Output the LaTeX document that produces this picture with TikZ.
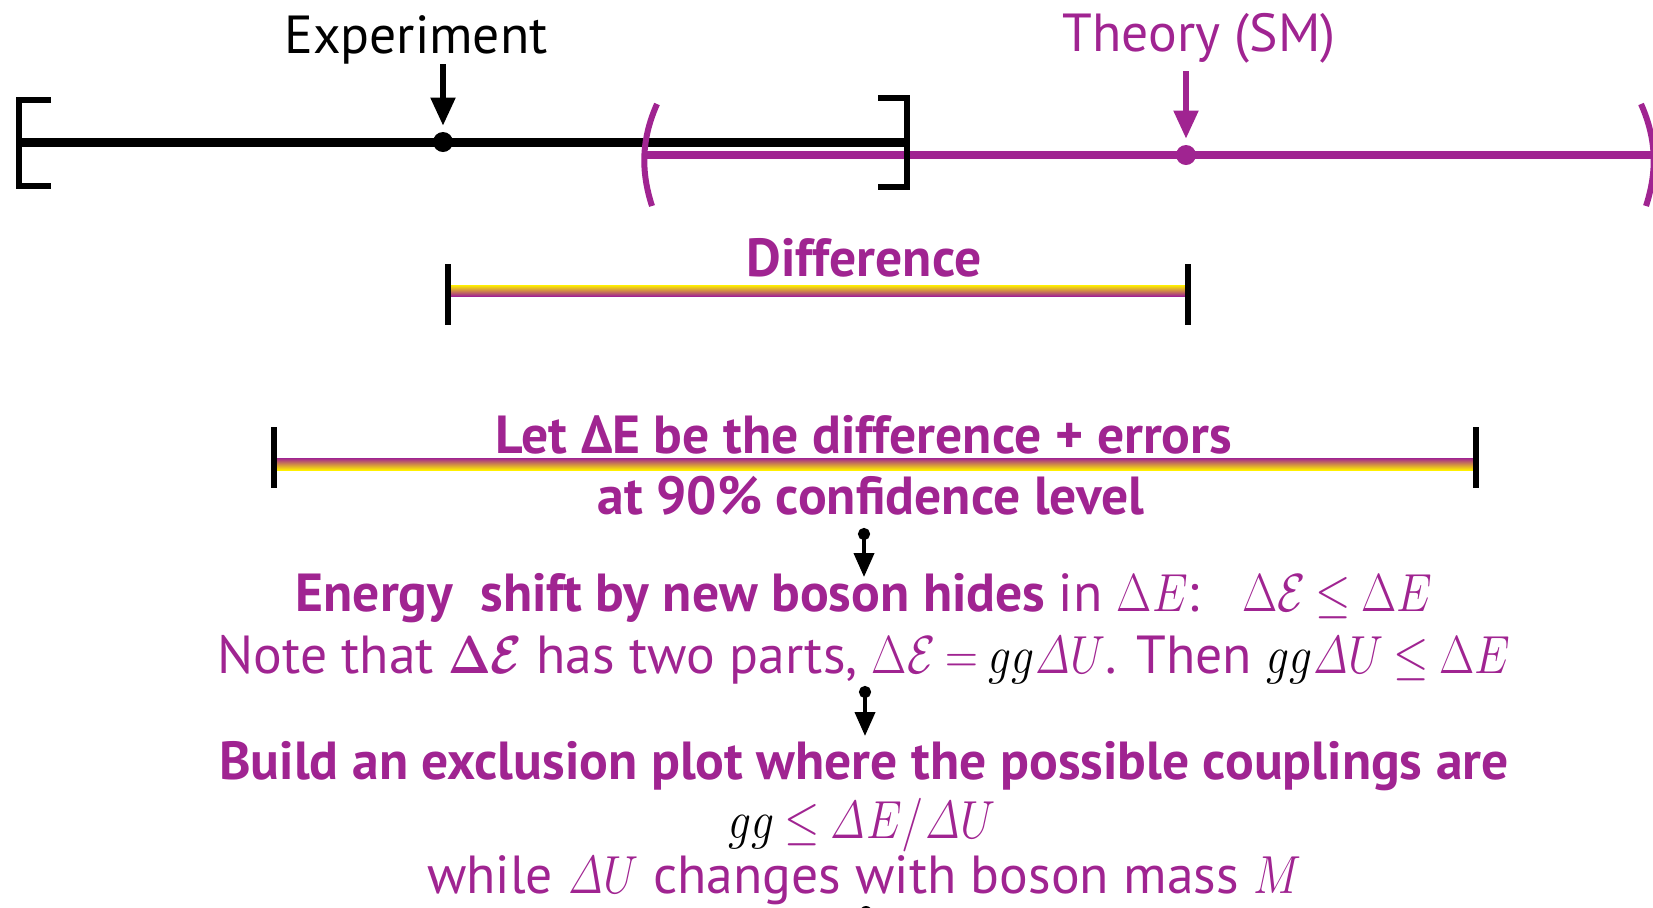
\RequirePackage{fix-cm}
\documentclass[tikz,border=0pt]{standalone}
\usepackage{amsmath,bm}
\usepackage{graphicx}
\usepackage[no-math]{fontspec}
\setmainfont{PT Sans}
\usetikzlibrary{arrows.meta}
\definecolor{pur}{RGB}{160,36,145}
\definecolor{yel}{RGB}{255,240,0}
\newcommand{\mD}{\mathit{\Delta}}
\newcommand{\mm}[1]{\scalebox{0.85}[1]{$\thickmuskip=4mu\medmuskip=3mu #1$}}
\tikzset{
  txt/.style={font=\fontsize{26.8}{32}\selectfont, text=pur, inner sep=0pt, anchor=base},
  blkline/.style={draw=black, line width=4.5pt},
  brack/.style={draw=black, line width=3pt, line cap=butt, line join=miter},
  purline/.style={draw=pur, line width=3.6pt},
  paren/.style={draw=pur, line width=3pt},
  tickbar/.style={draw=black, line width=3pt},
  dotb/.style={circle, fill=black, inner sep=0pt, minimum size=10pt},
  dotp/.style={circle, fill=pur, inner sep=0pt, minimum size=10pt},
  bigarrow/.style={line width=2.6pt, -{Triangle[length=14pt,width=12pt]}},
  midarrow/.style={draw=black, line width=2pt, {Circle[length=6pt,width=6pt]}-{Triangle[length=12pt,width=10pt]}},
}
\begin{document}
\begin{tikzpicture}[x=0.5pt, y=-0.5pt]
\path[use as bounding box] (0,0) rectangle (1653,907);
\clip (0,0) rectangle (1653,907);

% experiment interval
\coordinate (bl) at (19,142);
\coordinate (br) at (907,142);
\draw[blkline] (bl) -- (br);

% theory interval
\coordinate (pl) at (645,155);
\coordinate (pr) at (1670,155);
\draw[purline] (pl) -- (pr);
\draw[paren] (657,104) .. controls (641,140) and (641,172) .. (652,206);
\draw[paren] (1641,104) .. controls (1657,140) and (1657,172) .. (1646,206);

% brackets
\draw[brack] (51,100) -- (19,100) -- (19,186) -- (51,186);
\draw[brack] (878,98) -- (907,98) -- (907,187) -- (878,187);

% labels and markers
\node[txt, text=black] (exp) at (416,53) {Experiment};
\node[dotb] (edot) at (443,142) {};
\coordinate (ea) at (443,64);
\draw[bigarrow, draw=black, fill=black, shorten >=3pt] (ea) -- (edot);

\node[txt] (th) at (1199,51) {Theory (SM)};
\node[dotp] (tdot) at (1186,155) {};
\coordinate (ta) at (1186,71);
\draw[bigarrow, draw=pur, fill=pur, shorten >=3pt] (ta) -- (tdot);

% difference bar
\node[txt] (diff) at (864,276) {\bfseries Difference};
\shade[top color=yel, bottom color=pur] (448,285) rectangle (1188,296);
\draw[tickbar] (448,264) -- (448,325);
\draw[tickbar] (1188,264) -- (1188,325);

% difference + errors bar
\shade[top color=pur, bottom color=yel] (274,458) rectangle (1476,470);
\draw[tickbar] (274,427) -- (274,488);
\draw[tickbar] (1476,427) -- (1476,488);
\node[txt] (let) at (864,453) {\bfseries Let ΔE be the difference + errors};
\node[txt] (cl) at (871,514) {\bfseries at 90\% confidence level};

\coordinate (a1s) at (864,528);
\coordinate (a1e) at (864,577);
\draw[midarrow] (a1s) -- (a1e);

\node[txt] (en) at (864,611) {\bfseries Energy\ \ shift by new boson hides \mdseries in \mm{\Delta E}:\ \ \ \mm{\Delta\mathcal{E}\le\Delta E}};
\node[txt] (note) at (864,673) {Note that \mm{\bm{\Delta\mathcal{E}}} has two parts, \mm{\Delta\mathcal{E} = {\color{black}gg}\mD U}. Then \mm{{\color{black}gg}\mD U\le\Delta E}};

\coordinate (a2s) at (865,686);
\coordinate (a2e) at (865,736);
\draw[midarrow] (a2s) -- (a2e);

\node[txt] (build) at (864,779) {\bfseries Build an exclusion plot where the possible couplings are};
\node[txt] (gg) at (862,838) {\mm{{\color{black}gg}\le\mD E/\mD U}};
\node[txt] (wh) at (864,893) {while \mm{\mD U} changes with boson mass \mm{M}};
\fill[black] (866,912) circle (6);
\end{tikzpicture}
\end{document}
